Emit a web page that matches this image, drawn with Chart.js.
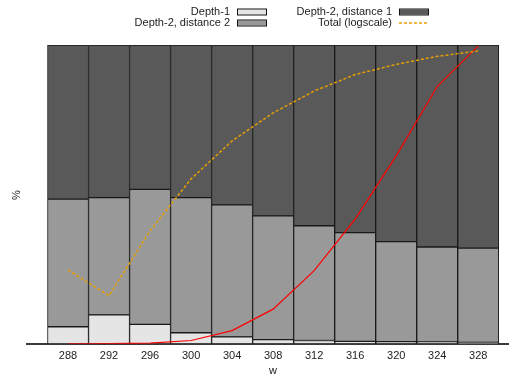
<!DOCTYPE html>
<html>
<head>
<meta charset="utf-8">
<script src="https://cdn.jsdelivr.net/npm/chart.js@4/dist/chart.umd.min.js"></script>
<style>
  html, body { margin: 0; padding: 0; background: #fff; }
  #wrap { width: 509px; height: 383px; position: relative; }
</style>
</head>
<body>
<div id="wrap"><canvas id="c" width="509" height="383"></canvas></div>
<script>
// window size w
const categories = [288, 292, 296, 300, 304, 308, 312, 316, 320, 324, 328];

// share of each kind (%), stacked to 100
const depth1     = [5.7, 9.7, 6.5, 3.7, 2.3, 1.4, 1.1, 0.8, 0.7, 0.6, 0.5];
const depth2Dist2 = [42.7, 39.2, 45.2, 45.2, 44.2, 41.4, 38.4, 36.4, 33.5, 31.8, 31.5];
const depth2Dist1 = [51.6, 51.1, 48.3, 51.1, 53.5, 57.2, 60.5, 62.8, 65.8, 67.6, 68.0];

// total count, plotted on a log scale (position as % of the axis height)
const totalLog = [24.7, 16.1, 37.8, 55.2, 67.9, 77.3, 84.6, 90.1, 93.5, 96.2, 98.0];

// cumulative curve (% of axis height)
const cumulative = [0, 0.05, 0.2, 1.1, 4.4, 11.6, 24.5, 41.7, 62.9, 86.1, 99.7];

const FONT = '"Liberation Sans", Arial, sans-serif';
const pts = arr => categories.map((c, i) => ({ x: c, y: arr[i] }));

const barStyle = {
  type: 'bar',
  yAxisID: 'y',
  order: 1,
  borderColor: '#1a1a1a',
  borderWidth: 1,
  borderSkipped: false,
  barPercentage: 1.0,
  categoryPercentage: 1.0
};

const ORANGE = '#e69f00';

// legend, axis caption and side label drawn on the canvas
const decorations = {
  id: 'decorations',
  afterDraw(chart) {
    const ctx = chart.ctx;
    ctx.save();
    ctx.font = '11px ' + FONT;
    ctx.fillStyle = '#222';
    ctx.textBaseline = 'middle';
    ctx.textAlign = 'right';
    const rows = [
      { label: 'Depth-1', tx: 230, y: 12, kind: 'box', fill: '#e5e5e5' },
      { label: 'Depth-2, distance 2', tx: 230, y: 23, kind: 'box', fill: '#999999' },
      { label: 'Depth-2, distance 1', tx: 392, y: 12, kind: 'box', fill: '#595959' },
      { label: 'Total (logscale)', tx: 392, y: 23, kind: 'dash' }
    ];
    rows.forEach(r => {
      ctx.fillStyle = '#222';
      ctx.fillText(r.label, r.tx, r.y);
      const bx = r.tx + 7;
      if (r.kind === 'box') {
        ctx.fillStyle = r.fill;
        ctx.fillRect(bx, r.y - 2.5, 30, 5);
        ctx.strokeStyle = '#111';
        ctx.lineWidth = 1;
        ctx.strokeRect(bx + 0.5, r.y - 3, 29, 6);
      } else {
        ctx.strokeStyle = ORANGE;
        ctx.lineWidth = 1.5;
        ctx.setLineDash([3, 2]);
        ctx.beginPath();
        ctx.moveTo(bx, r.y);
        ctx.lineTo(bx + 30, r.y);
        ctx.stroke();
        ctx.setLineDash([]);
      }
    });

    ctx.fillStyle = '#222';
    ctx.textAlign = 'center';
    ctx.fillText('w', 273, 371);

    ctx.translate(17, 195);
    ctx.rotate(-Math.PI / 2);
    ctx.fillText('%', 0, 0);
    ctx.restore();
  }
};

new Chart(document.getElementById('c'), {
  data: {
    datasets: [
      {
        type: 'line', label: 'Total (logscale)', data: pts(totalLog), yAxisID: 'y2', order: 0,
        borderColor: ORANGE, borderWidth: 1.5, borderDash: [3, 2], pointRadius: 0, tension: 0, fill: false
      },
      {
        type: 'line', label: 'cumulative', data: pts(cumulative), yAxisID: 'y2', order: 0,
        borderColor: '#ff0000', borderWidth: 1.2, pointRadius: 0, tension: 0, fill: false
      },
      Object.assign({ label: 'Depth-1', data: pts(depth1), backgroundColor: '#e5e5e5' }, barStyle),
      Object.assign({ label: 'Depth-2, distance 2', data: pts(depth2Dist2), backgroundColor: '#999999' }, barStyle),
      Object.assign({ label: 'Depth-2, distance 1', data: pts(depth2Dist1), backgroundColor: '#595959' }, barStyle)
    ]
  },
  options: {
    responsive: false,
    animation: false,
    layout: { padding: { left: 27, right: 0, top: 45, bottom: 14 } },
    plugins: { legend: { display: false }, tooltip: { enabled: false } },
    scales: {
      x: {
        type: 'linear',
        stacked: true,
        min: 284,
        max: 331,
        offset: false,
        afterBuildTicks: axis => { axis.ticks = categories.map(v => ({ value: v })); },
        grid: { display: false, drawTicks: false },
        border: { display: true, color: '#3a3a3a', width: 2 },
        ticks: { color: '#222', font: { family: FONT, size: 11 }, padding: 6, autoSkip: false, maxRotation: 0 }
      },
      y: {
        display: false,
        stacked: true,
        min: 0,
        max: 100
      },
      y2: {
        display: false,
        min: 0,
        max: 100
      }
    }
  },
  plugins: [decorations]
});
</script>
</body>
</html>
